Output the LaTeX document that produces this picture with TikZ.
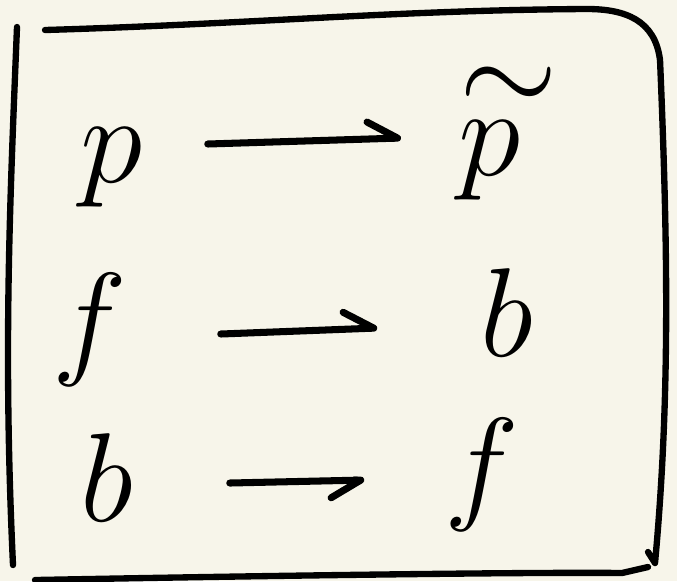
\RequirePackage{fix-cm}
\documentclass[tikz,border=0pt]{standalone}
\usetikzlibrary{arrows.meta}

\definecolor{papier}{RGB}{247,245,234}

\tikzset{
    buchstabe/.style={inner sep=0pt, minimum width=1.1cm, anchor=base, font=\fontsize{36}{43}\selectfont},
    pfeil/.style={line width=2pt, line cap=round, -{Straight Barb[left, round, length=0.3cm, width=0.34cm]}},
    pfeilunten/.style={line width=2pt, line cap=round, -{Straight Barb[right, round, length=0.3cm, width=0.34cm]}},
    rahmen/.style={line width=1.8pt, line cap=round, line join=round}
}

\begin{document}
\begin{tikzpicture}[x=0.01cm, y=-0.01cm]
    \fill[papier] (0,0) rectangle (677,581);
    \useasboundingbox (0,0) rectangle (677,581);
    % Rahmen
    \draw[rahmen] (17,27) .. controls (10,200) and (3,350) .. (13,565);
    \draw[rahmen] (45,30) .. controls (250,24) and (400,10) .. (587,9)
        .. controls (625,9) and (655,20) .. (660,60)
        .. controls (668,250) and (670,400) .. (655,563)
        -- (648,552);
    \draw[rahmen] (35,580) .. controls (300,575) and (550,572) .. (622,573)
        -- (648,567);
    % Buchstaben
    \path node[buchstabe] (p) at (112,182) {$p$}
        node[buchstabe] (pt) at (490,175) {$\mathop{\hbox{$p$}}\limits^{\kern0.3em\displaystyle\sim}$}
        node[buchstabe] (f1) at (90,361) {$f$}
        node[buchstabe] (b1) at (507,356) {$b$}
        node[buchstabe] (b2) at (107,521) {$b$}
        node[buchstabe] (f2) at (482,506) {$f$};
    \draw[pfeil] ([shift={(40,-38)}]p.base east) -- ([shift={(-20,-37)}]pt.base west);
    \draw[pfeil] ([shift={(75,-27)}]f1.base east) -- ([shift={(-74,-28)}]b1.base west);
    \draw[pfeilunten] ([shift={(67,-38)}]b2.base east) -- ([shift={(-62,-26)}]f2.base west);
\end{tikzpicture}
\end{document}
